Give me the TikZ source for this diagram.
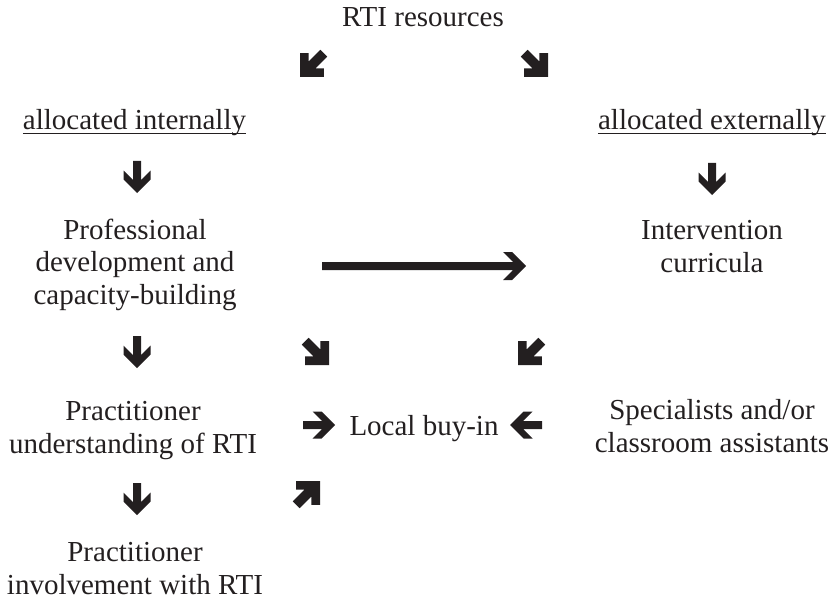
\documentclass[tikz,border=0pt]{standalone}
\usepackage{fontspec}
\setmainfont{Liberation Serif}
\definecolor{ink}{RGB}{35,31,32}
\tikzset{
  txt/.style={font=\fontsize{29}{32.5}\selectfont, align=center, inner sep=0pt, text=ink, anchor=base},
  uline/.style={draw=ink, line width=1.1pt},
  sarrow/.pic={\fill[ink] (16,0) -- (2.5,13.5) -- (-6.5,13.5) -- (3,4) -- (-16,4) -- (-16,-4) -- (3,-4) -- (-6.5,-13.5) -- (2.5,-13.5) -- cycle;},
  darrow/.pic={\fill[ink,scale=1.08] (0,0) -- (22,0) -- (22,8) -- (14.36,8) -- (25.18,18.82) -- (18.82,25.18) -- (8,14.36) -- (8,22) -- (0,22) -- cycle;},
  larrow/.pic={\fill[ink] (0,0) -- (-14,14) -- (-23,14) -- (-13,4) -- (-204,4) -- (-204,-4) -- (-13,-4) -- (-23,-14) -- (-14,-14) -- cycle;}
}
\begin{document}
\begin{tikzpicture}[x=1pt,y=1pt]
\useasboundingbox (0,0) rectangle (834,-604);
% text nodes (multi-line nodes anchored at the baseline of their last line)
\node[txt] (rti) at (423,-27) {RTI resources};
\node[txt] (ai) at (134.5,-130) {allocated internally};
\node[txt] (ae) at (712,-130) {allocated externally};
\node[txt] (pd) at (135,-304) {Professional\\development and\\capacity-building};
\node[txt] (ic) at (712,-272) {Intervention\\curricula};
\node[txt] (pu) at (133,-453) {Practitioner\\understanding of RTI};
\node[txt] (lb) at (424,-435) {Local buy-in};
\node[txt] (sc) at (712,-452) {Specialists and/or\\classroom assistants};
\node[txt] (pi) at (135,-594) {Practitioner\\involvement with RTI};
% underlines
\draw[uline] ([yshift=-3.5pt]ai.base west) -- ([yshift=-3.5pt]ai.base east);
\draw[uline] ([yshift=-3.5pt]ae.base west) -- ([yshift=-3.5pt]ae.base east);
% diagonal arrows
\pic (d1) at (300,-77) {darrow};
\pic[rotate=90] (d2) at (548,-77) {darrow};
\pic[rotate=90] (d3) at (329,-365) {darrow};
\pic (d4) at (518,-365) {darrow};
\pic[rotate=180] (d5) at (320,-481) {darrow};
% straight arrows
\pic[rotate=-90] (s1) at (137,-177) {sarrow};
\pic[rotate=-90] (s2) at (712,-179) {sarrow};
\pic[rotate=-90] (s3) at (137,-352) {sarrow};
\pic[rotate=-90] (s4) at (137,-499) {sarrow};
\pic (s5) at (319,-425) {sarrow};
\pic[rotate=180] (s6) at (526,-425) {sarrow};
% long arrow
\pic (l1) at (526,-266) {larrow};
\end{tikzpicture}
\end{document}
